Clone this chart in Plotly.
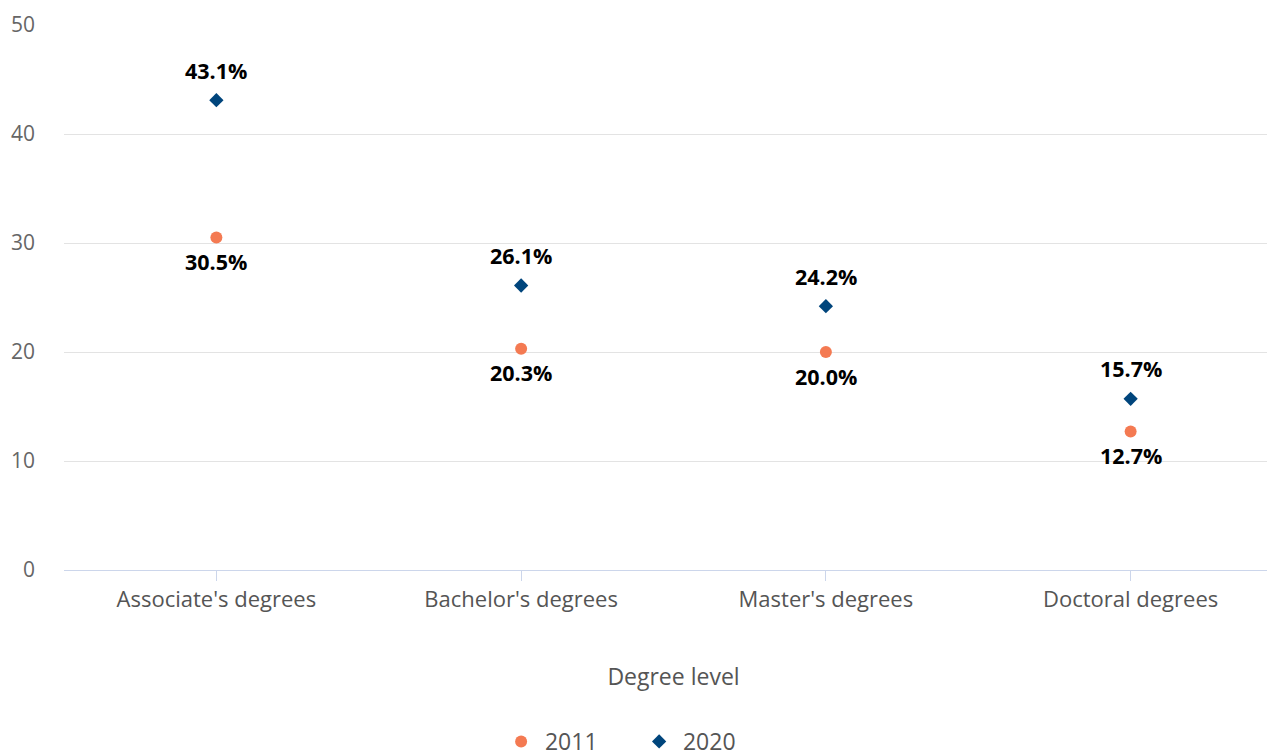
import plotly.graph_objects as go

categories = ["Associate's degrees", "Bachelor's degrees", "Master's degrees", "Doctoral degrees"]
values_2011 = [30.5, 20.3, 20.0, 12.7]
values_2020 = [43.1, 26.1, 24.2, 15.7]
y_ticks = [0, 10, 20, 30, 40, 50]
series_names = ["2011", "2020"]

FONT = "Open Sans, Noto Sans, sans-serif"
C2011 = "#F47A52"
C2020 = "#00457C"

fig = go.Figure()
fig.add_trace(go.Scatter(x=categories, y=values_2011, mode="markers", name="\u2009" + series_names[0],
                         marker=dict(symbol="circle", size=12, color=C2011),
                         hoverinfo="skip"))
fig.add_trace(go.Scatter(x=categories, y=values_2020, mode="markers", name="\u2009" + series_names[1],
                         marker=dict(symbol="diamond", size=11, color=C2020),
                         hoverinfo="skip"))

for c, v in zip(categories, values_2011):
    fig.add_annotation(x=c, y=v, text=f"<b>{v:.1f}%</b>", showarrow=False,
                       yshift=-24, font=dict(family=FONT, size=21.5, color="#000000"))
for c, v in zip(categories, values_2020):
    fig.add_annotation(x=c, y=v, text=f"<b>{v:.1f}%</b>", showarrow=False,
                       yshift=30, font=dict(family=FONT, size=21.5, color="#000000"))

fig.update_layout(
    width=1275, height=755,
    margin=dict(l=56, r=0, t=17, b=193),
    plot_bgcolor="#ffffff", paper_bgcolor="#ffffff",
    font=dict(family=FONT, color="#666666", size=21.5),
    showlegend=True,
    legend=dict(orientation="h", x=0.495, xanchor="center", xref="container",
                y=-0.02, yanchor="bottom", yref="container",
                font=dict(size=23, color="#555555"), itemwidth=30,
                entrywidth=93, entrywidthmode="pixels"),
    xaxis=dict(range=[-0.5, 3.5], showgrid=False, showline=True, linecolor="#ccd6eb",
               linewidth=1, ticks="outside", ticklen=10, tickcolor="#ccd6eb",
               tickfont=dict(size=22, color="#555555"), automargin=False,
               title=dict(text="Degree level", font=dict(size=23, color="#555555"), standoff=56)),
    yaxis=dict(range=[0, 50], tickvals=y_ticks, showgrid=True, gridcolor="#e3e3e3",
               zeroline=False, showline=False, tickfont=dict(size=21, color="#666666"),
               ticklabelstandoff=28, automargin=False),
)

fig.write_html("out.html")
